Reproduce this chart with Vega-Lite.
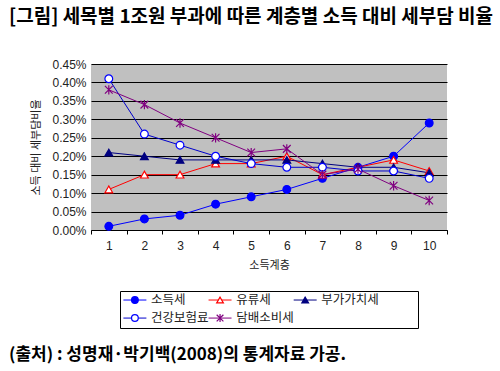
{
  "$schema": "https://vega.github.io/schema/vega-lite/v6.json",
  "background": "white",
  "padding": {"left": 8, "top": 8, "right": 10, "bottom": 5},
  "title": {"text": "[그림] 세목별 1조원 부과에 따른 계층별 소득 대비 세부담 비율", "anchor": "start", "frame": "group", "font": "Noto Sans CJK KR", "fontSize": 19, "fontWeight": "bold", "color": "black", "dx": -82, "offset": 31},
  "config": {"view": {"fill": "#C0C0C0", "stroke": null}},
  "bounds": "flush",
  "center": true,
  "spacing": 61,
  "datasets": {
    "tax": [
      {"계층": 1, "세목": "소득세", "비율": 0.01},
      {"계층": 2, "세목": "소득세", "비율": 0.03},
      {"계층": 3, "세목": "소득세", "비율": 0.04},
      {"계층": 4, "세목": "소득세", "비율": 0.07},
      {"계층": 5, "세목": "소득세", "비율": 0.09},
      {"계층": 6, "세목": "소득세", "비율": 0.11},
      {"계층": 7, "세목": "소득세", "비율": 0.14},
      {"계층": 8, "세목": "소득세", "비율": 0.17},
      {"계층": 9, "세목": "소득세", "비율": 0.20},
      {"계층": 10, "세목": "소득세", "비율": 0.29},
      {"계층": 1, "세목": "유류세", "비율": 0.11},
      {"계층": 2, "세목": "유류세", "비율": 0.15},
      {"계층": 3, "세목": "유류세", "비율": 0.15},
      {"계층": 4, "세목": "유류세", "비율": 0.18},
      {"계층": 5, "세목": "유류세", "비율": 0.18},
      {"계층": 6, "세목": "유류세", "비율": 0.20},
      {"계층": 7, "세목": "유류세", "비율": 0.15},
      {"계층": 8, "세목": "유류세", "비율": 0.17},
      {"계층": 9, "세목": "유류세", "비율": 0.19},
      {"계층": 10, "세목": "유류세", "비율": 0.16},
      {"계층": 1, "세목": "부가가치세", "비율": 0.21},
      {"계층": 2, "세목": "부가가치세", "비율": 0.20},
      {"계층": 3, "세목": "부가가치세", "비율": 0.19},
      {"계층": 4, "세목": "부가가치세", "비율": 0.19},
      {"계층": 5, "세목": "부가가치세", "비율": 0.19},
      {"계층": 6, "세목": "부가가치세", "비율": 0.19},
      {"계층": 7, "세목": "부가가치세", "비율": 0.18},
      {"계층": 8, "세목": "부가가치세", "비율": 0.17},
      {"계층": 9, "세목": "부가가치세", "비율": 0.17},
      {"계층": 10, "세목": "부가가치세", "비율": 0.155},
      {"계층": 1, "세목": "건강보험료", "비율": 0.41},
      {"계층": 2, "세목": "건강보험료", "비율": 0.26},
      {"계층": 3, "세목": "건강보험료", "비율": 0.23},
      {"계층": 4, "세목": "건강보험료", "비율": 0.20},
      {"계층": 5, "세목": "건강보험료", "비율": 0.18},
      {"계층": 6, "세목": "건강보험료", "비율": 0.17},
      {"계층": 7, "세목": "건강보험료", "비율": 0.17},
      {"계층": 8, "세목": "건강보험료", "비율": 0.16},
      {"계층": 9, "세목": "건강보험료", "비율": 0.16},
      {"계층": 10, "세목": "건강보험료", "비율": 0.14},
      {"계층": 1, "세목": "담배소비세", "비율": 0.38},
      {"계층": 2, "세목": "담배소비세", "비율": 0.34},
      {"계층": 3, "세목": "담배소비세", "비율": 0.29},
      {"계층": 4, "세목": "담배소비세", "비율": 0.25},
      {"계층": 5, "세목": "담배소비세", "비율": 0.21},
      {"계층": 6, "세목": "담배소비세", "비율": 0.22},
      {"계층": 7, "세목": "담배소비세", "비율": 0.15},
      {"계층": 8, "세목": "담배소비세", "비율": 0.165},
      {"계층": 9, "세목": "담배소비세", "비율": 0.12},
      {"계층": 10, "세목": "담배소비세", "비율": 0.08}
    ]
  },
  "vconcat": [
    {
      "width": 356,
      "height": 166,
      "data": {"name": "tax"},
      "encoding": {
        "x": {"field": "계층", "type": "ordinal", "scale": {"paddingInner": 0, "paddingOuter": 0},
          "axis": {"title": "소득계층", "labelAngle": 0, "tickBand": "extent", "domainColor": "black", "tickColor": "black", "tickSize": 4, "labelFont": "Liberation Sans", "labelFontSize": 12, "labelColor": "#222", "labelPadding": 6, "titleFont": "Noto Sans CJK KR", "titleFontSize": 11, "titleFontWeight": "normal", "titleColor": "#222", "titlePadding": 8}},
        "y": {"field": "비율", "type": "quantitative", "scale": {"domain": [0, 0.45]},
          "axis": {"values": [0, 0.05, 0.1, 0.15, 0.2, 0.25, 0.3, 0.35, 0.4, 0.45], "labelExpr": "format(datum.value, '.2f') + '%'", "title": "소득 대비 세부담비율", "grid": true, "gridColor": "black", "gridOpacity": 1, "domain": false, "ticks": false, "labelFont": "Liberation Sans", "labelFontSize": 12, "labelColor": "#222", "labelPadding": 5, "titleFont": "Noto Sans CJK KR", "titleFontSize": 11, "titleFontWeight": "normal", "titleColor": "#222", "titlePadding": 10}}
      },
      "layer": [
        {
          "mark": {"type": "line", "strokeWidth": 1},
          "encoding": {
            "color": {"field": "세목", "type": "nominal", "legend": null,
              "scale": {"domain": ["소득세", "유류세", "부가가치세", "건강보험료", "담배소비세"], "range": ["#0000FF", "#FF0000", "#000080", "#0000CC", "#800080"]}}
          }
        },
        {
          "mark": {"type": "point", "strokeWidth": 1.2, "opacity": 1, "size": 60},
          "encoding": {
            "shape": {"field": "세목", "type": "nominal", "legend": null,
              "scale": {"domain": ["소득세", "유류세", "부가가치세", "건강보험료", "담배소비세"], "range": ["circle", "triangle-up", "triangle-up", "circle", "M-1,-1L1,1M-1,1L1,-1M0,-1.2L0,1.2"]}},
            "fill": {"field": "세목", "type": "nominal", "legend": null,
              "scale": {"domain": ["소득세", "유류세", "부가가치세", "건강보험료", "담배소비세"], "range": ["#0000FF", "#FFFFFF", "#000080", "#FFFFFF", "#800080"]}},
            "stroke": {"field": "세목", "type": "nominal", "legend": null,
              "scale": {"domain": ["소득세", "유류세", "부가가치세", "건강보험료", "담배소비세"], "range": ["#0000FF", "#FF0000", "#000080", "#0000FF", "#800080"]}}
          }
        }
      ]
    },
    {
      "width": 298,
      "height": 37,
      "view": {"fill": "white", "stroke": "black", "strokeWidth": 1},
      "title": {"text": "(출처) : 성명재·박기백(2008)의 통계자료 가공.", "orient": "bottom", "anchor": "start", "frame": "group", "font": "Noto Sans CJK KR", "fontSize": 17, "fontWeight": "bold", "color": "black", "dx": -111, "offset": 19},
      "data": {"name": "tax"},
      "transform": [
        {"filter": "datum['계층'] === 1"},
        {"window": [{"op": "row_number", "as": "i"}]},
        {"calculate": "(datum.i - 1) % 3", "as": "col"},
        {"calculate": "floor((datum.i - 1) / 3)", "as": "row"},
        {"calculate": "datum.col + 0.04", "as": "xa"},
        {"calculate": "datum.col + 0.31", "as": "xb"},
        {"calculate": "datum.col + 0.175", "as": "xm"},
        {"calculate": "datum.col + 0.365", "as": "xt"}
      ],
      "encoding": {
        "y": {"field": "row", "type": "quantitative", "scale": {"domain": [-0.5, 1.55], "reverse": true}, "axis": null}
      },
      "layer": [
        {
          "mark": {"type": "rule", "strokeWidth": 1},
          "encoding": {
            "x": {"field": "xa", "type": "quantitative", "scale": {"domain": [0, 3.01]}, "axis": null},
            "x2": {"field": "xb"},
            "color": {"field": "세목", "type": "nominal", "legend": null,
              "scale": {"domain": ["소득세", "유류세", "부가가치세", "건강보험료", "담배소비세"], "range": ["#0000FF", "#FF0000", "#000080", "#0000CC", "#800080"]}}
          }
        },
        {
          "mark": {"type": "point", "strokeWidth": 1.2, "opacity": 1, "size": 45},
          "encoding": {
            "x": {"field": "xm", "type": "quantitative", "axis": null},
            "shape": {"field": "세목", "type": "nominal", "legend": null},
            "fill": {"field": "세목", "type": "nominal", "legend": null},
            "stroke": {"field": "세목", "type": "nominal", "legend": null}
          }
        },
        {
          "mark": {"type": "text", "align": "left", "baseline": "middle", "font": "Noto Sans CJK KR", "fontSize": 12.5, "color": "#222"},
          "encoding": {
            "x": {"field": "xt", "type": "quantitative", "axis": null},
            "text": {"field": "세목", "type": "nominal"}
          }
        }
      ]
    }
  ]
}
